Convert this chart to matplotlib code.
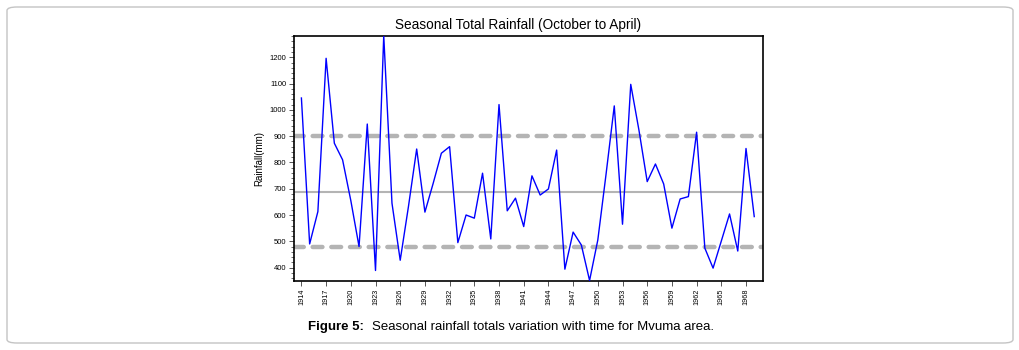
import numpy as np
import matplotlib
matplotlib.use("Agg")
import matplotlib.pyplot as plt
from matplotlib.patches import FancyBboxPatch
from matplotlib.ticker import MultipleLocator

plt.rcParams['font.family'] = ['Liberation Sans', 'DejaVu Sans']

# seasonal totals (mm)
years = list(range(1914, 1970))
rainfall = [1045, 490, 613, 1196, 873, 810, 655, 480, 946, 389,
            1282, 645, 428, 632, 851, 611, 720, 835, 860, 495,
            600, 588, 759, 509, 1020, 616, 664, 556, 749, 676,
            699, 847, 394, 535, 486, 351, 505, 755, 1015, 565,
            1097, 922, 727, 794, 718, 550, 661, 670, 915, 474,
            398, 501, 604, 463, 853, 594]
mean_line = 689
upper_line = 901
lower_line = 478
xtick_years = list(range(1914, 1969, 3))
ytick_vals = [400, 500, 600, 700, 800, 900, 1000, 1100, 1200]

fig = plt.figure(figsize=(10.2, 3.5), dpi=100)

# rounded frame around the figure
frame = FancyBboxPatch((7 / 1020, 7 / 350), 1006 / 1020, 336 / 350,
                       boxstyle="round,pad=0,rounding_size=0.01",
                       transform=fig.transFigure, fill=False,
                       edgecolor='#c4c4c4', linewidth=1.0)
fig.patches.append(frame)

ax = fig.add_axes([294 / 1020, 1 - 281 / 350, (763.3 - 294) / 1020, (281 - 35.7) / 350])

ax.axhline(upper_line, color='#b4b4b4', linewidth=3.2, linestyle=(0, (2.2, 2.0)),
           dash_capstyle='round', zorder=1)
ax.axhline(lower_line, color='#b4b4b4', linewidth=3.2, linestyle=(0, (2.2, 2.0)),
           dash_capstyle='round', zorder=1)
ax.axhline(mean_line, color='#b4b4b4', linewidth=1.5, zorder=1)
ax.plot(years, rainfall, color='#0000ff', linewidth=1.0, zorder=3)

ax.set_xlim(1913.1, 1970.1)
ax.set_ylim(349, 1282)
ax.set_xticks(xtick_years)
ax.set_xticklabels([str(y) for y in xtick_years], rotation=90, fontsize=5.2)
ax.set_yticks(ytick_vals)
ax.set_yticklabels([str(v) for v in ytick_vals], fontsize=5.5)
ax.yaxis.set_minor_locator(MultipleLocator(20))
ax.tick_params(axis='both', which='major', direction='out', length=3.5, width=0.7,
               color='#555555', pad=2)
ax.tick_params(axis='y', which='minor', direction='out', length=2, width=0.6,
               color='#555555')
for s in ax.spines.values():
    s.set_linewidth(1.2)

ax.set_ylabel('Rainfall(mm)', fontsize=7, labelpad=4)
ax.set_title('Seasonal Total Rainfall (October to April)', fontsize=9.8, pad=5, x=0.477)

# caption: bold label followed by plain text
cap = fig.text(308 / 1020, 1 - 327 / 350, 'Figure 5:', weight='bold',
               ha='left', va='center', fontsize=9.5)
ax.annotate('Seasonal rainfall totals variation with time for Mvuma area.',
            xy=(1, 0.5), xycoords=cap, xytext=(6, 0), textcoords='offset points',
            ha='left', va='center', fontsize=9.5, annotation_clip=False)

fig.savefig('out.png', dpi=100)
